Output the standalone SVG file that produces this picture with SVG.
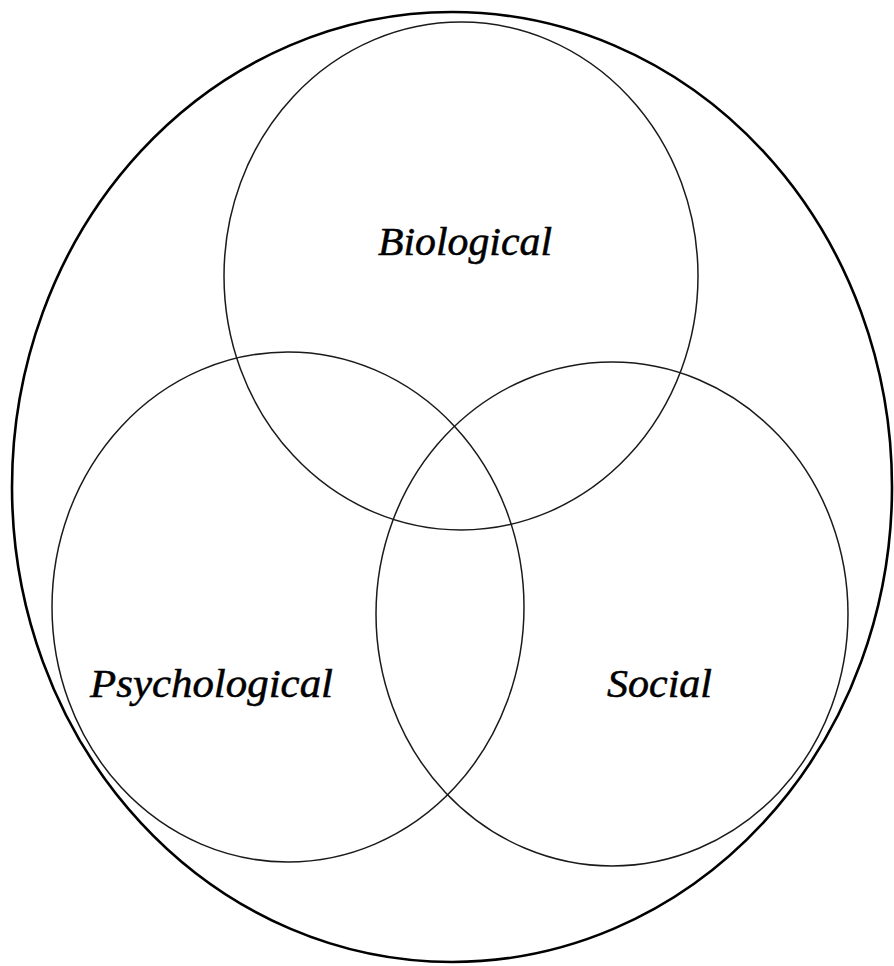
<svg xmlns="http://www.w3.org/2000/svg" width="894" height="966" viewBox="0 0 894 966">
<style>
.outer{fill:none;stroke:#000;stroke-width:2.6}
.c{fill:none;stroke:#1a1a1a;stroke-width:1.5}
.t{font-family:"Liberation Serif","Times New Roman",serif;font-style:italic;font-size:39px;fill:#000;stroke:#000;stroke-width:0.5}
</style>
<rect width="894" height="966" fill="#fff"/>
<g id="outer"><ellipse class="outer" cx="452" cy="487" rx="440" ry="475"/></g>
<g id="biological">
<ellipse class="c" cx="461" cy="276" rx="237" ry="254"/>
<text class="t" x="378" y="255" textLength="174" lengthAdjust="spacingAndGlyphs">Biological</text>
</g>
<g id="psychological">
<ellipse class="c" cx="288" cy="607" rx="236" ry="255"/>
<text class="t" x="90" y="697" textLength="243" lengthAdjust="spacingAndGlyphs">Psychological</text>
</g>
<g id="social">
<ellipse class="c" cx="612" cy="614" rx="236" ry="252"/>
<text class="t" x="607" y="697" textLength="105" lengthAdjust="spacingAndGlyphs">Social</text>
</g>
<g id="connectors"></g>
</svg>
